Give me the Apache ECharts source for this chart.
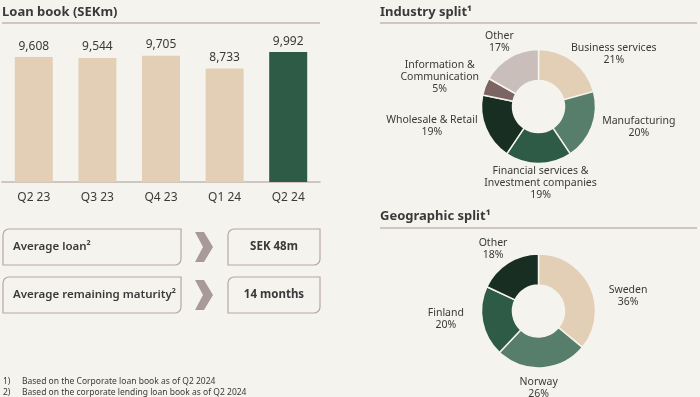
<!DOCTYPE html>
<html>
<head>
<meta charset="utf-8">
<script src="https://cdn.jsdelivr.net/npm/echarts@6/dist/echarts.min.js"></script>
<style>
  html, body { margin: 0; padding: 0; background: #F5F3EE; }
  #chart { width: 700px; height: 397px; }
</style>
</head>
<body>
<div id="chart"></div>
<script>
// Loan book (SEKm)
const quarters = ['Q2 23', 'Q3 23', 'Q4 23', 'Q1 24', 'Q2 24']
const loanBook = [9608, 9544, 9705, 8733, 9992]

// Industry split (%)
const industryNames = ['Business services', 'Manufacturing', 'Financial services &\nInvestment companies', 'Wholesale & Retail', 'Information &\nCommunication', 'Other']
const industryShare = [21, 20, 19, 19, 5, 17]

// Geographic split (%)
const geoNames = ['Sweden', 'Norway', 'Finland', 'Other']
const geoShare = [36, 26, 20, 18]

// key figures
const kpiLabels = ['Average loan²', 'Average remaining maturity²']
const kpiValues = ['SEK 48m', '14 months']

const footnotes = ['Based on the Corporate loan book as of Q2 2024', 'Based on the corporate lending loan book as of Q2 2024']

const FONT = 'Noto Sans'
const TEXT = '#3A3A3A'
const LINE = '#C5B6B0'
const BG = '#F5F3EE'
const industryColors = ['#E3CFB6', '#577D6B', '#2E5B46', '#182E22', '#7B6461', '#C9BEBA']
const geoColors = ['#E3CFB6', '#577D6B', '#2E5B46', '#182E22']

// label nudges (px) so labels sit like the original slide
const industryNudge = [[11, 7], [7, -6], [2, -4], [-6, -9], [-3, -1], [0, 0]]
const geoNudge = [[15, 17], [-5, 2], [-13, -6], [-4, 1]]

// 把标签放在扇区外侧，居中对齐
function outsideLabels (values, cx, cy, radius, nudge) {
  const total = values.reduce((a, b) => a + b, 0)
  const mids = []
  let acc = 0
  values.forEach(v => {
    mids.push((acc + v / 2) / total * Math.PI * 2)
    acc += v
  })
  return function (params) {
    const a = mids[params.dataIndex]
    const dx = Math.sin(a)
    const dy = -Math.cos(a)
    const r = radius + 6
    const w = params.labelRect.width
    const h = params.labelRect.height
    const n = nudge[params.dataIndex]
    return {
      x: cx + dx * r + dx * w / 2 + n[0],
      y: cy + dy * r + dy * h / 2 + n[1],
      align: 'center',
      verticalAlign: 'middle'
    }
  }
}

function donut (names, values, colors, cx, cy, nudge) {
  return {
    type: 'pie',
    silent: true,
    center: [cx, cy],
    radius: [26, 57],
    startAngle: 90,
    clockwise: true,
    avoidLabelOverlap: false,
    itemStyle: { borderColor: BG, borderWidth: 1.5 },
    label: {
      show: true,
      position: 'outside',
      formatter: '{b}\n{c}%',
      fontFamily: FONT,
      fontSize: 10.5,
      lineHeight: 12,
      color: TEXT
    },
    labelLine: { show: false },
    labelLayout: outsideLabels(values, cx, cy, 57, nudge),
    data: names.map((n, i) => ({ name: n, value: values[i], itemStyle: { color: colors[i] } }))
  }
}

const graphics = [
  { type: 'text', left: 2, top: 6, style: { text: 'Loan book (SEKm)', font: 'bold 13px "' + FONT + '"', fill: TEXT } },
  { type: 'line', shape: { x1: 2, y1: 23, x2: 320, y2: 23 }, style: { stroke: LINE, lineWidth: 1.5 } },
  { type: 'text', left: 380, top: 6, style: { text: 'Industry split¹', font: 'bold 13px "' + FONT + '"', fill: TEXT } },
  { type: 'line', shape: { x1: 380, y1: 23, x2: 697, y2: 23 }, style: { stroke: LINE, lineWidth: 1.5 } },
  { type: 'text', left: 380, top: 210, style: { text: 'Geographic split¹', font: 'bold 13px "' + FONT + '"', fill: TEXT } },
  { type: 'line', shape: { x1: 380, y1: 228, x2: 697, y2: 228 }, style: { stroke: LINE, lineWidth: 1.5 } }
]

kpiLabels.forEach((label, i) => {
  const y0 = 229 + i * 48
  graphics.push(
    { type: 'rect', shape: { x: 3, y: y0, width: 178, height: 36, r: [6, 0, 6, 0] }, style: { fill: 'none', stroke: '#B7A8A3', lineWidth: 1.2 } },
    { type: 'polygon', shape: { points: [[195, y0 + 3], [204, y0 + 3], [213, y0 + 18], [204, y0 + 33], [195, y0 + 33], [203, y0 + 18]] }, style: { fill: '#A89A96' } },
    { type: 'rect', shape: { x: 228, y: y0, width: 92, height: 36, r: [6, 0, 6, 0] }, style: { fill: 'none', stroke: '#B7A8A3', lineWidth: 1.2 } },
    { type: 'text', x: 13, y: y0 + 18, style: { text: label, font: '600 11.5px "' + FONT + '"', fill: TEXT, verticalAlign: 'middle' } },
    { type: 'text', x: 274, y: y0 + 18, style: { text: kpiValues[i], font: 'bold 11.5px "' + FONT + '"', fill: TEXT, align: 'center', verticalAlign: 'middle' } }
  )
})

footnotes.forEach((t, i) => {
  graphics.push(
    { type: 'text', x: 3, y: 382 + i * 11, style: { text: (i + 1) + ')', font: '8.5px "' + FONT + '"', fill: TEXT, verticalAlign: 'middle' } },
    { type: 'text', x: 22, y: 382 + i * 11, style: { text: t, font: '8.5px "' + FONT + '"', fill: TEXT, verticalAlign: 'middle' } }
  )
})

const option = {
  backgroundColor: BG,
  animation: false,
  textStyle: { fontFamily: FONT },
  grid: { left: 2, width: 318, top: 52, height: 130 },
  xAxis: {
    type: 'category',
    data: quarters,
    axisLine: { lineStyle: { color: LINE, width: 1.5 } },
    axisTick: { show: false },
    axisLabel: { color: TEXT, fontSize: 12, margin: 10 }
  },
  yAxis: { type: 'value', min: 0, max: 10000, show: false, splitLine: { show: false } },
  series: [
    {
      type: 'bar',
      silent: true,
      barWidth: 38,
      data: loanBook,
      itemStyle: {
        color: p => p.dataIndex === loanBook.length - 1 ? '#2E5B46' : '#E3CFB6'
      },
      label: {
        show: true,
        position: 'top',
        distance: 5,
        color: TEXT,
        fontSize: 12,
        formatter: p => p.value.toLocaleString('en-US')
      }
    },
    donut(industryNames, industryShare, industryColors, 538.5, 106.5, industryNudge),
    donut(geoNames, geoShare, geoColors, 538.5, 311, geoNudge)
  ],
  graphic: graphics
}

const chart = echarts.init(document.getElementById('chart'))
chart.setOption(option)
</script>
</body>
</html>
